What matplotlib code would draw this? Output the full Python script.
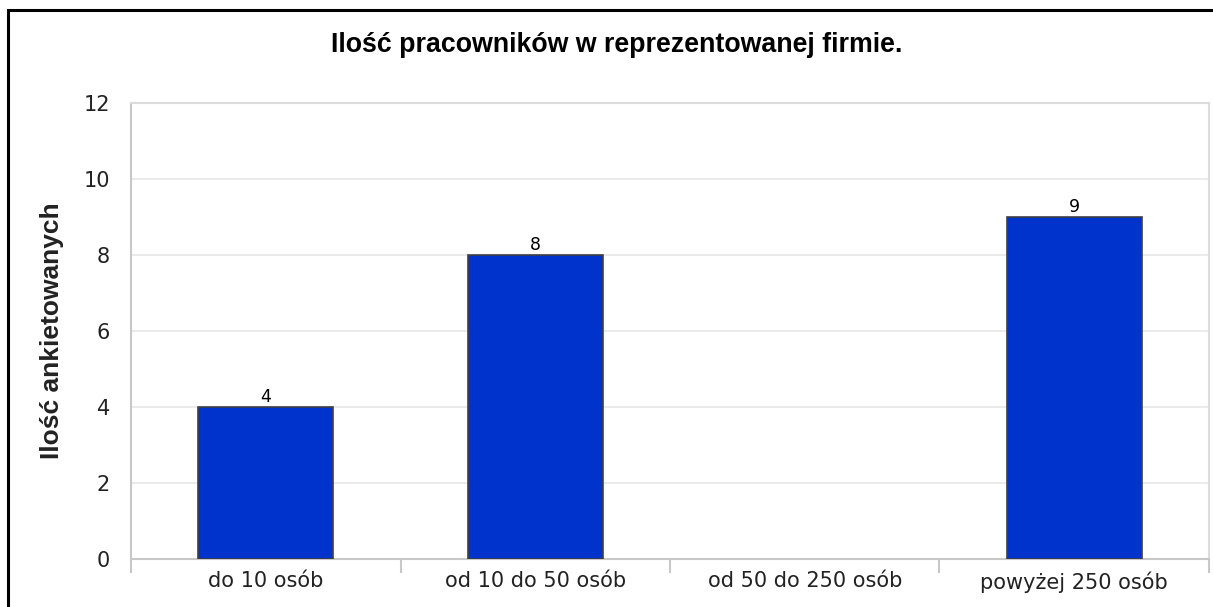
import matplotlib
matplotlib.use("Agg")
import matplotlib.pyplot as plt
from matplotlib.patches import Rectangle

kategorie = ["do 10 osób", "od 10 do 50 osób", "od 50 do 250 osób", "powyżej 250 osób"]
wartosci = [4, 8, 0, 9]
y_ticks = [0, 2, 4, 6, 8, 10, 12]

plt.rcParams["font.family"] = ["DejaVu Sans"]

fig = plt.figure(figsize=(12.13, 6.07), dpi=100)
ax = fig.add_axes([0.108, 0.0791, 0.8887, 0.7512])

# ramka wokol calego obrazka (prawa i dolna krawedz poza kadrem)
fig.patches.append(Rectangle((8 / 1213, -0.05), 1.1, 1 - 10 / 607 + 0.05,
                             transform=fig.transFigure, fill=False,
                             edgecolor="black", linewidth=2.2))

x = list(range(len(kategorie)))
bary = ax.bar(x, wartosci, width=0.5, color="#0033CC", edgecolor="#404040", linewidth=1.2, zorder=3)
for b, v in zip(bary, wartosci):
    if v == 0:
        b.set_linewidth(0)
for xi, v in zip(x, wartosci):
    if v > 0:
        ax.text(xi, v + 0.03, str(v), ha="center", va="bottom", fontsize=12.5, zorder=4)

ax.set_xlim(-0.5, len(kategorie) - 0.5)
ax.set_ylim(0, 12)
ax.set_yticks(y_ticks)
ax.set_xticks([i + 0.5 for i in range(-1, len(kategorie))], minor=True)
ax.set_xticks(x)
ax.set_xticklabels(kategorie, fontsize=15, color="#222222")
ax.tick_params(axis="x", which="major", length=0, pad=9)
ax.tick_params(axis="x", which="minor", length=10, color="#c8c8c8", width=1.5)
ax.tick_params(axis="y", length=0, pad=15, labelsize=15, labelcolor="#222222")

ax.grid(axis="y", color="#e8e8e8", linewidth=1.2, zorder=0)
for s in ["left", "bottom", "right", "top"]:
    ax.spines[s].set_color("#c8c8c8")
    ax.spines[s].set_linewidth(1.5)
ax.spines["top"].set_color("#dcdcdc")
ax.spines["right"].set_color("#dcdcdc")

ax.set_ylabel("Ilość ankietowanych", fontsize=19, fontweight="bold",
              family="Liberation Sans", labelpad=14, color="#222222")
fig.text(617 / 1213, 1 - 45 / 607, "Ilość pracowników w reprezentowanej firmie.",
         ha="center", va="center", fontsize=19.3, fontweight="bold", family="Liberation Sans")

fig.savefig("out.png", dpi=100)
